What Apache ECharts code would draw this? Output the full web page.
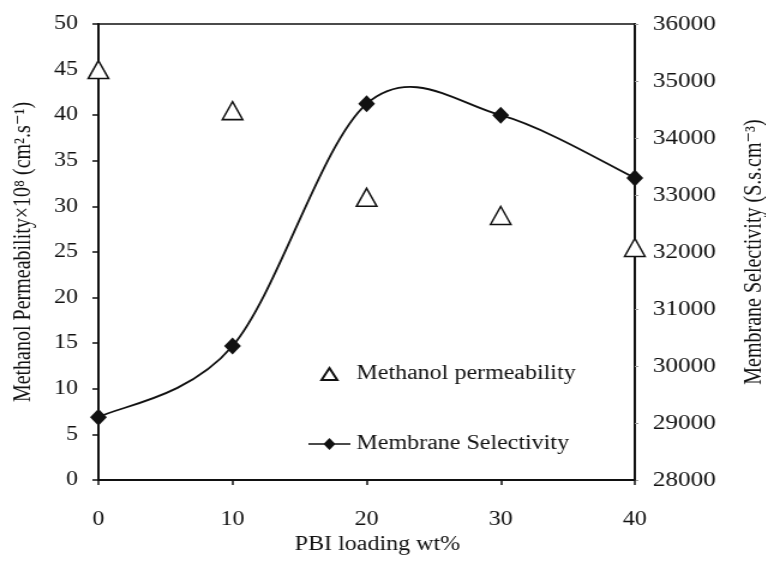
<!DOCTYPE html>
<html>
<head>
<meta charset="utf-8">
<script src="https://cdn.jsdelivr.net/npm/echarts@6/dist/echarts.min.js"></script>
<style>
  html, body { margin: 0; padding: 0; background: #fff; overflow: hidden; }
  /* the figure is drawn a little narrow and widened, giving the wide serif look */
  #chart { width: 638px; height: 565px; transform: scaleX(1.2); transform-origin: 0 0; }
</style>
</head>
<body>
<div id="chart"></div>
<script>
// PBI loading (wt%)
const loading = [0, 10, 20, 30, 40];
// Methanol permeability ×10^8 (cm².s⁻¹)
const permeability = [45, 40.5, 31, 29, 25.5];
// Membrane selectivity (S.s.cm⁻³)
const selectivity = [29100, 30350, 34600, 34400, 33300];

const serif = '"Liberation Serif", "DejaVu Serif", serif';
const ink = '#111';

// Catmull-Rom style smoothing (tangent = (next - prev) / 6) through the
// pixel positions the axis gives for each point.
function smoothCurve(params, api) {
  if (params.dataIndex !== 0) return null;
  const pts = loading.map((x, i) => api.coord([x, selectivity[i]]));
  const n = pts.length;
  const children = [];
  for (let i = 0; i < n - 1; i++) {
    const p0 = pts[Math.max(i - 1, 0)];
    const p1 = pts[i];
    const p2 = pts[i + 1];
    const p3 = pts[Math.min(i + 2, n - 1)];
    children.push({
      type: 'bezierCurve',
      shape: {
        x1: p1[0], y1: p1[1],
        cpx1: p1[0] + (p2[0] - p0[0]) / 6, cpy1: p1[1] + (p2[1] - p0[1]) / 6,
        cpx2: p2[0] - (p3[0] - p1[0]) / 6, cpy2: p2[1] - (p3[1] - p1[1]) / 6,
        x2: p2[0], y2: p2[1]
      },
      style: { fill: null, stroke: ink, lineWidth: 1.8 }
    });
  }
  return { type: 'group', children };
}

const chart = echarts.init(document.getElementById('chart'));
chart.setOption({
  animation: false,
  backgroundColor: '#fff',
  textStyle: { fontFamily: serif, color: ink },
  grid: {
    left: 82, right: 109, top: 24, bottom: 85,
    outerBoundsMode: 'none', containLabel: false,
    show: true, borderColor: ink, borderWidth: 1.5, backgroundColor: 'transparent'
  },
  legend: {
    orient: 'vertical',
    left: 257, top: 364, padding: 0,
    itemWidth: 35, itemHeight: 12, itemGap: 50,
    textStyle: { fontFamily: serif, fontSize: 20, color: ink },
    data: [
      { name: 'Methanol permeability', icon: 'path://M6,0L12,11L0,11Z' },
      { name: 'Membrane Selectivity', icon: 'path://M0,5.2H35V6.8H0Z M17.5,0L22.5,6L17.5,12L12.5,6Z' }
    ]
  },
  xAxis: {
    type: 'value', min: 0, max: 40, interval: 10,
    name: 'PBI loading wt%', nameLocation: 'middle', nameGap: 53,
    nameTextStyle: { fontFamily: serif, fontSize: 20, color: ink, padding: [0, 0, 0, 18] },
    axisLine: { lineStyle: { color: ink, width: 2 } },
    axisTick: { inside: false, length: 5, lineStyle: { color: ink, width: 1.5 } },
    axisLabel: { fontFamily: serif, fontSize: 20, color: ink, margin: 30 },
    splitLine: { show: false }
  },
  yAxis: [
    {
      type: 'value', position: 'left', min: 0, max: 50, interval: 5,
      name: 'Methanol Permeability×10⁸ (cm².s⁻¹)', nameLocation: 'middle', nameRotate: 90, nameGap: 52,
      nameTextStyle: { fontFamily: serif, fontSize: 20, color: ink },
      axisLine: { show: true, lineStyle: { color: ink, width: 2 } },
      axisTick: { show: true, length: 5, lineStyle: { color: ink, width: 1.5 } },
      axisLabel: { fontFamily: serif, fontSize: 20, color: ink, margin: 17 },
      splitLine: { show: false }
    },
    {
      type: 'value', position: 'right', min: 28000, max: 36000, interval: 1000,
      name: 'Membrane Selectivity (S.s.cm⁻³)', nameLocation: 'middle', nameRotate: 90, nameGap: 90,
      nameTextStyle: { fontFamily: serif, fontSize: 20, color: ink },
      axisLine: { show: true, lineStyle: { color: ink, width: 2 } },
      axisTick: { show: true, length: 3, lineStyle: { color: '#999', width: 1 } },
      axisLabel: { fontFamily: serif, fontSize: 21, color: ink, margin: 15, formatter: v => String(v) },
      splitLine: { show: false }
    }
  ],
  series: [
    {
      name: 'Methanol permeability',
      type: 'scatter',
      yAxisIndex: 0,
      symbol: 'triangle',
      symbolSize: [17, 18],
      itemStyle: { color: '#fff', borderColor: ink, borderWidth: 1.5, opacity: 1 },
      data: loading.map((x, i) => [x, permeability[i]]),
      z: 3
    },
    {
      name: 'selectivity curve',
      type: 'custom',
      yAxisIndex: 1,
      silent: true,
      clip: false,
      renderItem: smoothCurve,
      encode: { x: 0, y: 1 },
      data: loading.map((x, i) => [x, selectivity[i]]),
      z: 4
    },
    {
      name: 'Membrane Selectivity',
      type: 'scatter',
      yAxisIndex: 1,
      symbol: 'diamond',
      symbolSize: [14, 17],
      itemStyle: { color: ink, borderWidth: 0, opacity: 1 },
      data: loading.map((x, i) => [x, selectivity[i]]),
      z: 5
    }
  ]
});
</script>
</body>
</html>
